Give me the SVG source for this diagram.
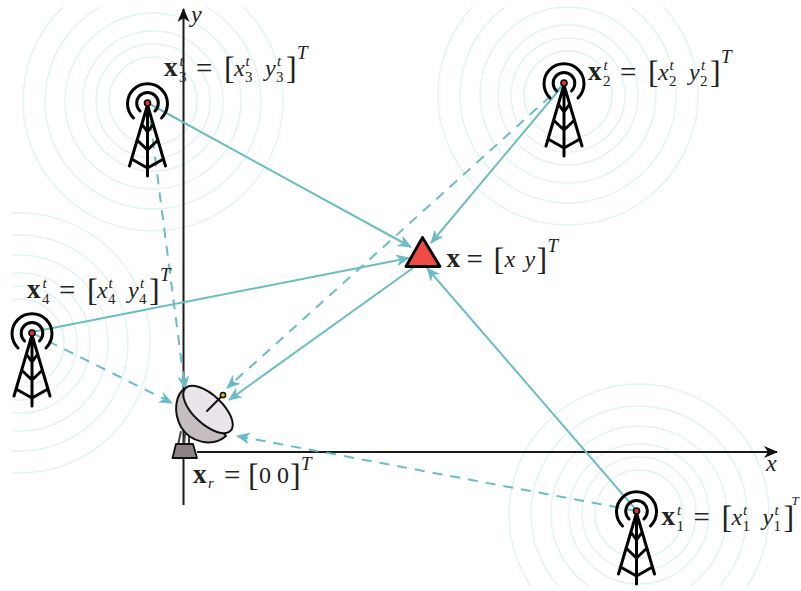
<svg xmlns="http://www.w3.org/2000/svg" width="801" height="591" viewBox="0 0 801 591">
<style>
text{font-family:"Liberation Serif","Times New Roman",serif;fill:#222;font-size:24px}
.b{font-weight:bold;font-size:27px}
.i{font-style:italic}
.e{font-size:29px}
.s{font-size:15px}
.si{font-size:15px;font-style:italic}
.k{font-size:32px;font-weight:normal}
.T{font-size:19px;font-style:italic}
.ring{fill:none;stroke:#e2f3f3;stroke-width:1.4}
.solid{fill:none;stroke:#6cbcc4;stroke-width:2;marker-end:url(#ah)}
.dash{fill:none;stroke:#6cbcc4;stroke-width:2;stroke-dasharray:10 8;marker-end:url(#ah)}
.ax{fill:none;stroke:#1a1a1a;stroke-width:2}
.tw{fill:none;stroke:#000;stroke-width:3;stroke-linecap:round;stroke-linejoin:round}
</style>
<defs>
<marker id="ah" viewBox="0 0 14 12" refX="13" refY="6" markerWidth="14" markerHeight="12" markerUnits="userSpaceOnUse" orient="auto"><path d="M0 0L14 6L0 12L4 6Z" fill="#6cbcc4"/></marker>
<marker id="ak" viewBox="0 0 14 12" refX="13" refY="6" markerWidth="14" markerHeight="12" markerUnits="userSpaceOnUse" orient="auto"><path d="M0 0L14 6L0 12L4 6Z" fill="#111"/></marker>
<clipPath id="pg"><rect x="12" y="7" width="789" height="579"/></clipPath>
<g id="rings">
<circle class="ring" r="44"/><circle class="ring" r="57"/><circle class="ring" r="70"/><circle class="ring" r="88"/><circle class="ring" r="108"/><circle class="ring" r="130"/>
</g>
<g id="tower">
<path class="tw" d="M-14 15A20 20 0 1 1 14 15M-7.5 8A10.8 10.8 0 1 1 7.5 8M0 2V73M0 2L-18 63M0 2L18 63M-16 56L0 65L16 56M-9.5 38L0 47L9.5 38M-5 22L0 29L5 22"/>
<circle r="3" fill="#ef2b2b" stroke="#000" stroke-width="1.6"/>
</g>
</defs>
<g id="wave-rings" clip-path="url(#pg)">
<use href="#rings" x="153" y="101"/>
<use href="#rings" x="568" y="95"/>
<use href="#rings" x="20" y="343"/>
<use href="#rings" x="639" y="514"/>
</g>
<g id="axes">
<path class="ax" d="M183.5 505V9" marker-end="url(#ak)"/>
<path class="ax" d="M197 452H777" marker-end="url(#ak)"/>
<text class="i" x="191" y="22">y</text>
<text class="i" x="766" y="471">x</text>
</g>
<g id="connectors">
<path class="solid" d="M148 103L411 247"/>
<path class="solid" d="M564 84L431 243"/>
<path class="solid" d="M32 332L409 258"/>
<path class="solid" d="M637 511L427 268"/>
<path class="solid" d="M413 268L229 400"/>
<path class="dash" d="M564 84L227 388"/>
<path class="dash" d="M148 103L185 389"/>
<path class="dash" d="M32 333L172 403"/>
<path class="dash" d="M637 511L237 436"/>
</g>
<g id="tower3"><use href="#tower" x="147.5" y="103"/></g>
<g id="tower2"><use href="#tower" x="564" y="83"/></g>
<g id="tower4"><use href="#tower" x="32" y="333"/></g>
<g id="tower1"><use href="#tower" x="636.5" y="511"/></g>
<g id="label3" transform="translate(164 76)">
<text class="b" x="0" y="0">x</text><text class="si" x="15.5" y="-10">t</text><text class="s" x="15" y="6">3</text><text class="e" x="32" y="2">=</text><text class="k" x="60" y="3">[</text><text class="i" x="70" y="0">x</text><text class="si" x="81.5" y="-10">t</text><text class="s" x="81" y="6">3</text><text class="i" x="101" y="0">y</text><text class="si" x="113" y="-10">t</text><text class="s" x="112" y="6">3</text><text class="k" x="122" y="3">]</text><text class="T" x="133" y="-17">T</text>
</g>
<g id="label2" transform="translate(588 80)">
<text class="b" x="0" y="0">x</text><text class="si" x="15.5" y="-10">t</text><text class="s" x="15" y="6">2</text><text class="e" x="32" y="2">=</text><text class="k" x="60" y="3">[</text><text class="i" x="70" y="0">x</text><text class="si" x="81.5" y="-10">t</text><text class="s" x="81" y="6">2</text><text class="i" x="101" y="0">y</text><text class="si" x="113" y="-10">t</text><text class="s" x="112" y="6">2</text><text class="k" x="122" y="3">]</text><text class="T" x="133" y="-17">T</text>
</g>
<g id="label4" transform="translate(27 298)">
<text class="b" x="0" y="0">x</text><text class="si" x="15.5" y="-10">t</text><text class="s" x="15" y="6">4</text><text class="e" x="32" y="2">=</text><text class="k" x="60" y="3">[</text><text class="i" x="70" y="0">x</text><text class="si" x="81.5" y="-10">t</text><text class="s" x="81" y="6">4</text><text class="i" x="101" y="0">y</text><text class="si" x="113" y="-10">t</text><text class="s" x="112" y="6">4</text><text class="k" x="122" y="3">]</text><text class="T" x="133" y="-17">T</text>
</g>
<g id="label1" transform="translate(661.5 525)">
<text class="b" x="0" y="0">x</text><text class="si" x="15.5" y="-10">t</text><text class="s" x="15" y="6">1</text><text class="e" x="32" y="2">=</text><text class="k" x="60" y="3">[</text><text class="i" x="70" y="0">x</text><text class="si" x="81.5" y="-10">t</text><text class="s" x="81" y="6">1</text><text class="i" x="101" y="0">y</text><text class="si" x="113" y="-10">t</text><text class="s" x="112" y="6">1</text><text class="k" x="122" y="3">]</text><text class="T" style="font-size:13px" x="130" y="-20">T</text>
</g>
<g id="target">
<path d="M422.5 237.5L406 266.5H440Z" fill="#f04a45" stroke="#000" stroke-width="2.8" stroke-linejoin="round"/>
<g transform="translate(446.5 266.5)">
<text class="b" x="0" y="0">x</text><text class="e" x="20" y="2">=</text><text class="k" x="47" y="3">[</text><text class="i" x="58" y="0">x</text><text class="i" x="78" y="0">y</text><text class="k" x="90" y="3">]</text><text class="T" x="101" y="-15">T</text>
</g>
</g>
<g id="receiver">
<path d="M181 431L178 445M185 434L184 445M189 436L189 445" fill="none" stroke="#444" stroke-width="2"/>
<path d="M176 444H193L197 458H172.5Z" fill="#8d8486" stroke="#111" stroke-width="1.8" stroke-linejoin="round"/>
<path d="M186 388C175 394 173 412 181 427C190 442 212 448 226 436Z" fill="#c5bdbf" stroke="#111" stroke-width="2" stroke-linejoin="round"/>
<ellipse cx="208" cy="409.5" rx="31" ry="14.5" transform="rotate(43 208 409.5)" fill="#e9e5ea" stroke="#111" stroke-width="2"/>
<path d="M207 411L223 395" fill="none" stroke="#111" stroke-width="2" stroke-linecap="round"/>
<circle cx="223" cy="395" r="2.6" fill="#f2c200" stroke="#111" stroke-width="1.5"/>
<g transform="translate(193 483)">
<text class="b" x="0" y="0">x</text><text class="si" x="15" y="5">r</text><text class="e" x="31" y="2">=</text><text class="k" x="55" y="3">[</text><text x="66" y="0">0</text><text x="84" y="0">0</text><text class="k" x="97" y="3">]</text><text class="T" x="108" y="-13">T</text>
</g>
</g>
</svg>
